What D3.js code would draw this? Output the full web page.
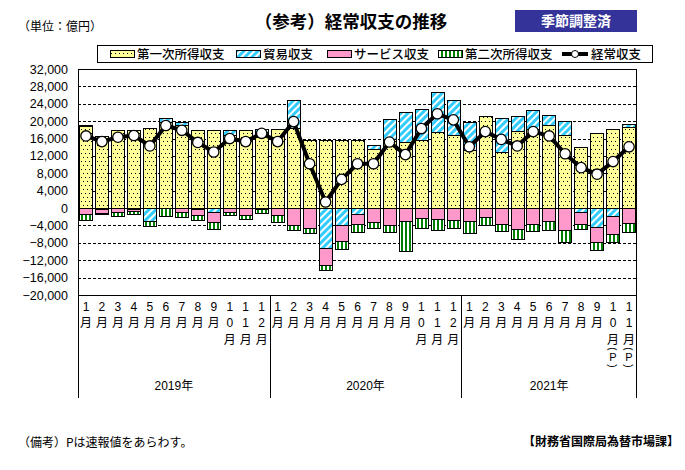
<!DOCTYPE html>
<html><head><meta charset="utf-8">
<script src="https://cdn.jsdelivr.net/npm/d3@7"></script>
<style>
body{margin:0;background:#fff;}
svg{display:block;}
text{font-family:"Liberation Sans","Noto Sans CJK JP",sans-serif;}
.jp{font-family:"Noto Sans CJK JP",sans-serif;}
</style></head><body>
<svg id="c" width="685" height="470"></svg>
<script>
const months = ["1月","2月","3月","4月","5月","6月","7月","8月","9月","10月","11月","12月",
  "1月","2月","3月","4月","5月","6月","7月","8月","9月","10月","11月","12月",
  "1月","2月","3月","4月","5月","6月","7月","8月","9月","10月(P)","11月(P)"];
const years = ["2019年","2020年","2021年"];
const yearOf = [0,0,0,0,0,0,0,0,0,0,0,0,1,1,1,1,1,1,1,1,1,1,1,1,2,2,2,2,2,2,2,2,2,2,2];
const seriesNames = ["第一次所得収支","貿易収支","サービス収支","第二次所得収支"];
const lineName = "経常収支";
const primary = [18900,16600,18000,18000,18500,19900,19200,17900,18000,16900,18000,17600,
  18200,18400,15700,15700,15700,15700,13600,15900,15300,15600,17600,16900,
  13400,21200,13000,17800,18300,19200,16900,14100,17300,18300,18700];
const trade = [300,-100,0,-200,-2900,900,500,-200,-850,1000,0,700,
  0,6400,0,-9100,-4000,-1300,900,4600,6700,7300,9000,8000,
  6400,0,7700,3400,4300,2200,3100,-850,-4300,-1750,600];
const service = [-1300,-1000,-850,-500,-100,0,-850,-1500,-2300,-850,-1500,-200,
  -1500,-3800,-4600,-3900,-3600,-2300,-3100,-3800,-2900,-2200,-2450,-2700,
  -2900,-2000,-3600,-4750,-3600,-2900,-5000,-2750,-3450,-4100,-3400];
const secondary = [-1400,-200,-900,-550,-1200,-1800,-1150,-1000,-1750,-850,-1100,-900,
  -1600,-1300,-1100,-1300,-1800,-1800,-1400,-1800,-6900,-2300,-2500,-1800,
  -2900,-1800,-1600,-2300,-1600,-2100,-2700,-1150,-1850,-1850,-2100];
const current = [16600,15300,16300,16700,14300,19000,17900,15100,12900,16000,15300,17200,
  15300,19900,10200,1400,6600,10200,10200,15200,12300,18300,21700,20300,
  14100,17600,15800,14300,17600,16600,12500,9300,7800,10700,14100];
const yTicks = [32000,28000,24000,20000,16000,12000,8000,4000,0,-4000,-8000,-12000,-16000,-20000];

const svg = d3.select("#c");
const L=78, R=637, T=69, B=295;
const defs = svg.append("defs");
const p1 = defs.append("pattern").attr("id","pDot").attr("patternUnits","userSpaceOnUse").attr("width",4).attr("height",8);
p1.append("rect").attr("width",4).attr("height",8).attr("fill","#ffff99");
p1.append("rect").attr("x",1).attr("y",1).attr("width",1).attr("height",1).attr("fill","#000");
p1.append("rect").attr("x",3).attr("y",5).attr("width",1).attr("height",1).attr("fill","#000");
const p2 = defs.append("pattern").attr("id","pDiag").attr("patternUnits","userSpaceOnUse").attr("width",5).attr("height",5).attr("patternTransform","rotate(45)");
p2.append("rect").attr("width",5).attr("height",5).attr("fill","#33ccff");
p2.append("rect").attr("width",2).attr("height",5).attr("fill","#fff");
const p4 = defs.append("pattern").attr("id","pVert").attr("patternUnits","userSpaceOnUse").attr("width",4).attr("height",4);
p4.append("rect").attr("width",4).attr("height",4).attr("fill","#fff");
p4.append("rect").attr("x",1).attr("width",2).attr("height",4).attr("fill","#008000");
const fills = ["url(#pDot)","url(#pDiag)","#ff99cc","url(#pVert)"];

const x = d3.scaleBand().domain(d3.range(months.length)).range([L,R]).paddingInner(0.16).paddingOuter(0.08);
const y = d3.scaleLinear().domain([-20000,32000]).range([B,T]);

svg.append("rect").attr("x",L).attr("y",T).attr("width",R-L).attr("height",B-T).attr("fill","#fff");
svg.append("g").selectAll("line").data(yTicks.filter(v=>v!==32000&&v!==-20000&&v!==0)).join("line")
  .attr("x1",L).attr("x2",R).attr("y1",d=>Math.round(y(d))+0.5).attr("y2",d=>Math.round(y(d))+0.5)
  .attr("stroke","#000").attr("stroke-width",1).attr("stroke-dasharray","3,2");
svg.append("g").selectAll("text").data(yTicks).join("text")
  .attr("x",68).attr("y",d=>y(d)).attr("dy","0.36em").attr("text-anchor","end")
  .attr("font-size",12.5).text(d=>d3.format(",")(d));

const rows = months.map((m,i)=>({i, a:primary[i], b:trade[i], c:service[i], d:secondary[i]}));
const stack = d3.stack().keys(["a","b","c","d"]).offset(d3.stackOffsetDiverging)(rows);
svg.append("g").selectAll("g").data(stack).join("g").attr("fill",(d,k)=>fills[k])
  .selectAll("rect").data(d=>d.filter(s=>s[1]!==s[0])).join("rect")
  .attr("x",d=>Math.round(x(d.data.i))+0.5).attr("width",Math.round(x.bandwidth()))
  .attr("y",d=>Math.round(y(Math.max(d[0],d[1])))+0.5)
  .attr("height",d=>Math.max(0,Math.round(y(Math.min(d[0],d[1])))-Math.round(y(Math.max(d[0],d[1])))))
  .attr("stroke","#000").attr("stroke-width",1);
svg.append("line").attr("x1",L).attr("x2",R).attr("y1",Math.round(y(0))+0.5).attr("y2",Math.round(y(0))+0.5).attr("stroke","#000");
svg.append("rect").attr("x",L+0.5).attr("y",T+0.5).attr("width",R-L-1).attr("height",B-T).attr("fill","none").attr("stroke","#000");

const line = d3.line().x((d,i)=>x(i)+x.bandwidth()/2).y(d=>y(d));
svg.append("path").attr("d",line(current)).attr("fill","none").attr("stroke","#000").attr("stroke-width",4).attr("stroke-linejoin","round");
svg.append("g").selectAll("circle").data(current).join("circle")
  .attr("cx",(d,i)=>x(i)+x.bandwidth()/2).attr("cy",d=>y(d)).attr("r",5.2)
  .attr("fill","#fff").attr("stroke","#000").attr("stroke-width",1.3);

const sepX = [L, x.step()*12+L, x.step()*24+L, R];
svg.append("g").selectAll("line").data(sepX).join("line")
  .attr("x1",(d,i)=>i===3?d-0.5:Math.round(d)+0.5).attr("x2",(d,i)=>i===3?d-0.5:Math.round(d)+0.5)
  .attr("y1",B).attr("y2",398).attr("stroke","#000");
const rowY = [307,323,340,349,357,366];
const mg = svg.append("g").attr("class","jp").attr("font-size",12);
months.forEach((m,i)=>{
  const cx = x(i)+x.bandwidth()/2;
  Array.from(m).forEach((c,k)=>{
    if(c==="("||c===")"){
      mg.append("text").attr("transform",`translate(${cx},${rowY[k]}) rotate(90)`)
        .attr("dy","0.36em").attr("text-anchor","middle").attr("font-size",10)
        .attr("font-family","Liberation Sans").text(c);
    } else {
      mg.append("text").attr("x",cx).attr("y",rowY[k]).attr("dy","0.36em")
        .attr("text-anchor","middle").attr("font-size",c==="P"?11:12).text(c);
    }
  });
});
svg.append("g").attr("class","jp").selectAll("text").data(years).join("text")
  .attr("x",(d,k)=>{const idx=d3.range(months.length).filter(i=>yearOf[i]===k);return (x(idx[0])-x.step()*x.paddingInner()/2 + x(idx[idx.length-1])+x.bandwidth()+x.step()*x.paddingInner()/2)/2;})
  .attr("y",386).attr("dy","0.36em").attr("text-anchor","middle").attr("font-size",12).text(d=>d);

svg.append("text").attr("class","jp").attr("x",18).attr("y",27).attr("dy","0.36em").attr("font-size",12).text("（単位：億円）");
svg.append("text").attr("class","jp").attr("x",351).attr("y",22).attr("dy","0.36em").attr("text-anchor","middle").attr("font-size",17.5).attr("font-weight","bold").text("（参考）経常収支の推移");
svg.append("rect").attr("x",515).attr("y",10).attr("width",122).attr("height",22).attr("fill","#333399");
svg.append("text").attr("class","jp").attr("x",576).attr("y",21).attr("dy","0.36em").attr("text-anchor","middle").attr("font-size",14).attr("font-weight","bold").attr("fill","#fff").text("季節調整済");

const lg = svg.append("g");
lg.append("rect").attr("x",97.5).attr("y",45.5).attr("width",555).attr("height",17).attr("fill","#fff").attr("stroke","#000");
const legX = [110,236,327,438,562];
seriesNames.forEach((n,k)=>{
  lg.append("rect").attr("x",legX[k]+0.5).attr("y",50.5).attr("width",24).attr("height",7).attr("fill",fills[k]).attr("stroke","#000");
  lg.append("text").attr("class","jp").attr("x",legX[k]+27).attr("y",54).attr("dy","0.36em").attr("font-size",12.5).attr("font-weight",500).text(n);
});
lg.append("line").attr("x1",legX[4]).attr("x2",legX[4]+26).attr("y1",54).attr("y2",54).attr("stroke","#000").attr("stroke-width",4);
lg.append("circle").attr("cx",legX[4]+13).attr("cy",54).attr("r",3.5).attr("fill","#fff").attr("stroke","#000");
lg.append("text").attr("class","jp").attr("x",legX[4]+29).attr("y",54).attr("dy","0.36em").attr("font-size",12.5).attr("font-weight",500).text(lineName);

svg.append("text").attr("class","jp").attr("x",18).attr("y",443).attr("dy","0.36em").attr("font-size",12).text("（備考）Pは速報値をあらわす。");
svg.append("text").attr("class","jp").attr("x",679).attr("y",442).attr("dy","0.36em").attr("text-anchor","end").attr("font-size",12).attr("font-weight","bold").text("【財務省国際局為替市場課】");
</script></body></html>
